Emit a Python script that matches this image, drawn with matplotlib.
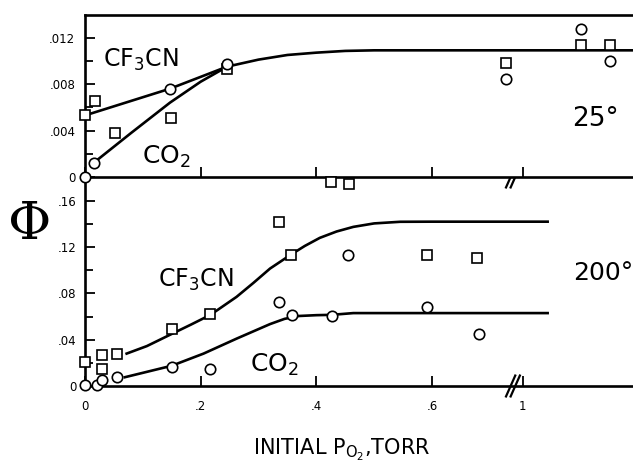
import numpy as np
import matplotlib
matplotlib.use("Agg")
import matplotlib.pyplot as plt
import matplotlib.transforms as mtransforms

W, H = 633, 469

# 25 C panel data (x = initial P_O2 in torr, y = quantum yield)
sq25_x = [0, 0.017, 0.052, 0.148, 0.246, 0.426, 0.457, 0.728, 1.10, 1.15]
sq25_y = [0.0053, 0.0065, 0.0038, 0.0051, 0.0093, -0.0004, -0.0006, 0.0098, 0.0114, 0.0114]
ci25_x = [0, 0.016, 0.147, 0.246, 0.728, 1.10, 1.15]
ci25_y = [0, 0.0012, 0.0076, 0.0097, 0.0084, 0.0127, 0.0100]

# hand drawn curves, 25 C
cf3cn25_cx = [0, 0.147, 0.246, 0.30, 0.35, 0.40, 0.45, 0.50, 0.55, 1.20]
cf3cn25_cy = [0.0053, 0.0076, 0.0095, 0.0101, 0.0105, 0.0107, 0.01085, 0.0109, 0.0109, 0.0109]
co225_cx = [0.017, 0.08, 0.147, 0.20, 0.246]
co225_cy = [0.0013, 0.0038, 0.0064, 0.0082, 0.0095]

# 200 C panel data
sq200_x = [0, 0.029, 0.055, 0.029, 0.15, 0.217, 0.336, 0.356, 0.591, 0.678]
sq200_y = [0.021, 0.027, 0.028, 0.015, 0.0495, 0.0625, 0.142, 0.113, 0.113, 0.111]
ci200_x = [0, 0.021, 0.029, 0.055, 0.15, 0.217, 0.336, 0.358, 0.455, 0.427, 0.591, 0.681]
ci200_y = [0.001, 0.001, 0.0056, 0.008, 0.0163, 0.0149, 0.0726, 0.0617, 0.113, 0.0602, 0.068, 0.045]

cf3cn200_cx = [0.072, 0.107, 0.15, 0.183, 0.217, 0.262, 0.291, 0.32, 0.356, 0.38,
               0.406, 0.435, 0.464, 0.50, 0.545, 0.60, 1.043]
cf3cn200_cy = [0.028, 0.0345, 0.045, 0.053, 0.0615, 0.077, 0.089, 0.1015, 0.1135, 0.121,
               0.128, 0.1335, 0.1375, 0.1405, 0.1419, 0.142, 0.142]
co2200_cx = [0.069, 0.101, 0.15, 0.205, 0.262, 0.32, 0.345, 0.37, 0.40, 0.427, 0.464, 0.50, 1.043]
co2200_cy = [0.0076, 0.0115, 0.0175, 0.028, 0.0409, 0.0535, 0.058, 0.0605, 0.0612, 0.0615, 0.063, 0.063, 0.063]

xtick_vals = [0, 0.2, 0.4, 0.6, 1.0]
xtick_labels = ["0", ".2", ".4", ".6", "1"]
ytop_vals = [0, 0.004, 0.008, 0.012]
ytop_labels = ["0", ".004", ".008", ".012"]
ybot_vals = [0, 0.04, 0.08, 0.12, 0.16]
ybot_labels = ["0", ".04", ".08", ".12", ".16"]


def brk(x):
    # axis is broken between .6 and 1
    x = np.asarray(x, dtype=float)
    return np.where(x >= 0.9, x - 0.243, x)


def fx(px):
    return px / W


def fy(py):
    return 1 - py / H


fig = plt.figure(figsize=(W / 100, H / 100), dpi=100)
axt = fig.add_axes([fx(85), fy(177), 548 / W, 162 / H])
axb = fig.add_axes([fx(85), fy(386), 548 / W, 209 / H])
axt.set_zorder(3)

lw = 1.9
mk = dict(mfc="white", mec="black", mew=1.2, ms=7.5, ls="none", zorder=5, clip_on=False)

# top panel
axt.plot(brk(cf3cn25_cx), cf3cn25_cy, color="black", lw=lw, zorder=3, solid_joinstyle="round")
axt.plot(brk(co225_cx), co225_cy, color="black", lw=lw, zorder=3, solid_joinstyle="round")
axt.plot(brk(sq25_x), sq25_y, marker="s", **mk)
axt.plot(brk(ci25_x), ci25_y, marker="o", **mk)
axt.set_ylim(0, 0.01394)

# bottom panel
axb.plot(brk(cf3cn200_cx), cf3cn200_cy, color="black", lw=lw, zorder=3, solid_joinstyle="round")
axb.plot(brk(co2200_cx), co2200_cy, color="black", lw=lw, zorder=3, solid_joinstyle="round")
axb.plot(brk(sq200_x), sq200_y, marker="s", **mk)
axb.plot(brk(ci200_x), ci200_y, marker="o", **mk)
axb.set_ylim(0, 0.1806)

for ax in (axt, axb):
    ax.set_xlim(0, 0.9476)
    ax.spines["right"].set_visible(False)
    for s in ax.spines.values():
        s.set_linewidth(lw)
    ax.set_xticks(brk(xtick_vals))
    ax.tick_params(direction="in", length=7, width=1.3, labelsize=8.5)
    ax.tick_params(axis="y", which="minor", direction="in", length=6, width=1.3)

axb.spines["top"].set_visible(False)
axt.set_xticklabels([])
axb.set_xticklabels(xtick_labels)
axb.tick_params(axis="x", pad=10)
axt.set_yticks(ytop_vals)
axt.set_yticklabels(ytop_labels)
axt.set_yticks(np.arange(0.002, 0.014, 0.004), minor=True)
axb.set_yticks(ybot_vals)
axb.set_yticklabels(ybot_labels)
axb.set_yticks(np.arange(0.02, 0.18, 0.04), minor=True)
axt.tick_params(axis="y", pad=7)
axb.tick_params(axis="y", pad=6)

# axis break marks
d0 = brk(0.74)
for ax, yb in ((axb, 0.0), (axb, 1.0)):
    tr = mtransforms.blended_transform_factory(ax.transData, ax.transAxes)
    for off in (0.0, 0.008):
        ax.plot([d0 - 0.012 + off, d0 + 0.004 + off], [yb - 0.05, yb + 0.05],
                color="black", lw=1.6, transform=tr, clip_on=False, zorder=6)

# labels
fig.text(fx(103), fy(67), r"CF$_3$CN", fontsize=17, ha="left", va="baseline")
fig.text(fx(142), fy(164), r"CO$_2$", fontsize=18, ha="left", va="baseline")
fig.text(fx(572), fy(126), "25°", fontsize=19, ha="left", va="baseline")
fig.text(fx(158), fy(287), r"CF$_3$CN", fontsize=17, ha="left", va="baseline")
fig.text(fx(250), fy(372), r"CO$_2$", fontsize=18, ha="left", va="baseline")
fig.text(fx(573), fy(280), "200°", fontsize=18, ha="left", va="baseline")
fig.text(fx(30), fy(224), "Φ", fontsize=38, family="DejaVu Serif", ha="center", va="center")
fig.text(fx(342), fy(455), r"INITIAL P$_{\mathrm{O}_2}$,TORR", fontsize=15, ha="center", va="baseline")

fig.savefig("out.png", dpi=100)
